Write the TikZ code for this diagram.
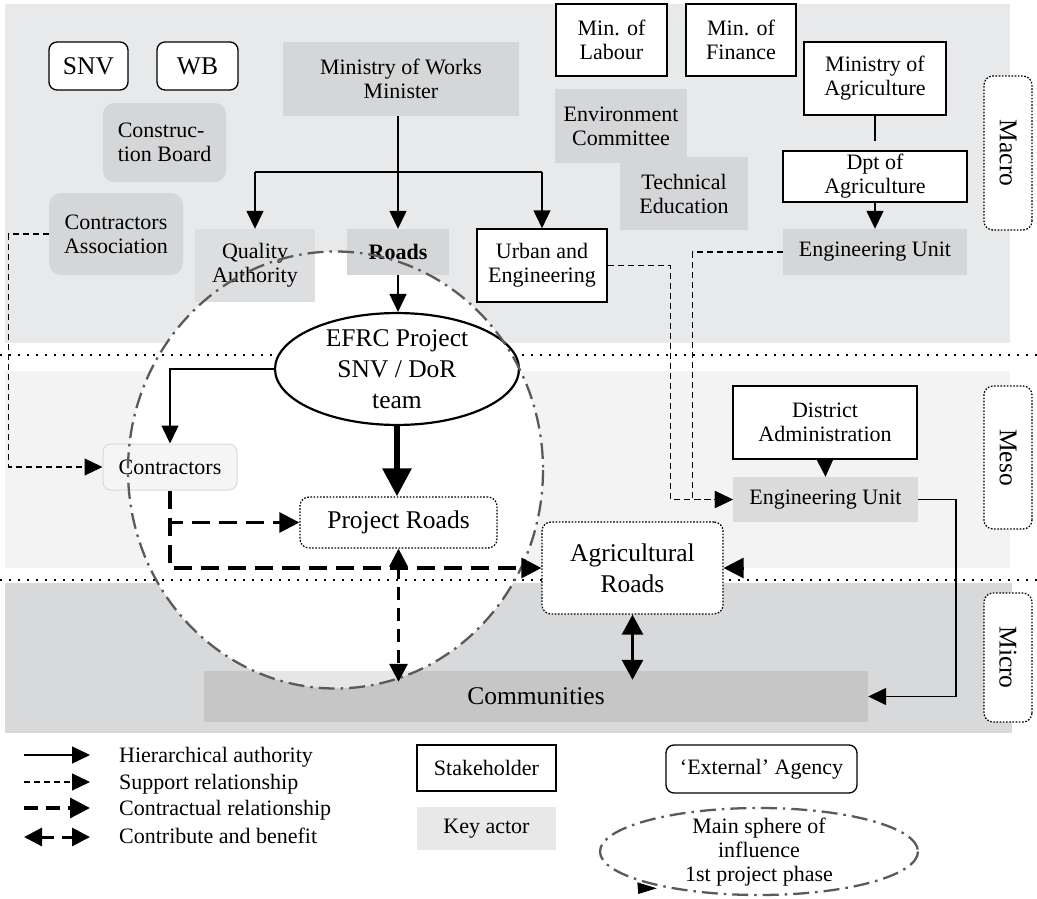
\documentclass[tikz,border=0pt]{standalone}
\usepackage{fontspec}
\setmainfont{Liberation Serif}
\usetikzlibrary{arrows.meta,shapes.geometric}

\definecolor{macrobg}{RGB}{232,233,235}
\definecolor{mesobg}{RGB}{243,243,243}
\definecolor{microbg}{RGB}{216,217,219}
\definecolor{keygray}{RGB}{213,214,216}
\definecolor{qagray}{RGB}{221,222,224}
\definecolor{unitgray}{RGB}{219,219,220}
\definecolor{commgray}{RGB}{198,198,198}
\definecolor{commlight}{RGB}{230,230,230}
\definecolor{contrfill}{RGB}{245,245,245}
\definecolor{contrline}{RGB}{218,218,218}
\definecolor{legkey}{RGB}{232,232,232}
\definecolor{spheregray}{RGB}{90,90,90}

\newcommand\txtnorm{\fontsize{22}{24}\selectfont}
\newcommand\txtbig{\fontsize{25.5}{31}\selectfont}

\begin{document}
\begin{tikzpicture}[x=1pt,y=-1pt,
  every node/.style={font=\txtnorm, align=center, inner sep=0pt},
  sz/.style 2 args={minimum width=#1pt, minimum height=#2pt},
  stake/.style={draw, line width=1.5pt, fill=white},
  keyact/.style={fill=keygray},
  ext/.style={draw, line width=1.3pt, rounded corners=8pt, fill=white},
  dotbox/.style={draw, line width=1.3pt, dash pattern=on 1.6pt off 1.6pt, rounded corners=9pt, fill=white},
  hier/.style={line width=1.5pt, -{Triangle[length=18pt,width=17pt]}},
  supp/.style={line width=1.2pt, dash pattern=on 6pt off 4pt, -{Triangle[length=18pt,width=17pt]}},
  contr/.style={line width=3.2pt, dash pattern=on 18pt off 9pt, -{Triangle[length=20pt,width=20pt]}},
  contrib/.style={line width=3pt, dash pattern=on 13pt off 8pt, {Triangle[length=18pt,width=18pt]}-{Triangle[length=18pt,width=18pt]}},
  sphere/.style={draw=spheregray, line width=2.3pt, dash pattern=on 16pt off 6pt on 2.5pt off 6pt},
  sep/.style={line width=2.4pt, dash pattern=on 2.4pt off 6.6pt}
]
\useasboundingbox (0,0) rectangle (1037,899);

% level bands
\fill[macrobg] (5,4) rectangle (1010,343);
\fill[mesobg]  (5,371) rectangle (1010,568);
\fill[microbg] (5,583) rectangle (1012,733);

% sphere of influence (fill)
\fill[white] (335.5,470) ellipse [x radius=207.5, y radius=218.5];

% communities bar
\node[fill=commgray, sz={664}{51}, font=\txtbig] (comm) at (536,696.5) {Communities};
\begin{scope}
  \clip (335.5,470) ellipse [x radius=207.5, y radius=218.5];
  \fill[commlight] (comm.north west) rectangle (comm.south east);
\end{scope}

% level separators
\draw[sep] (0,355) -- (1037,355);
\draw[sep] (0,580) -- (1037,580);

% macro level
\node[ext, sz={79}{48}, font=\txtbig] (snv) at (88.5,66) {SNV};
\node[ext, sz={81}{48}, font=\txtbig] (wb) at (197.5,66) {WB};
\node[keyact, rounded corners=11pt, sz={123}{79}, align=left] (cb) at (164.5,142.5) {Construc-\\tion Board};
\node[keyact, rounded corners=12pt, sz={134}{82}] (ca) at (116,234) {Contractors\\Association};
\node[keyact, sz={236}{74}] (mow) at (401,79) {Ministry of Works\\Minister};
\node[fill=qagray, sz={120}{73}] (qa) at (255,265.5) {Quality\\Authority};
\node[keyact, sz={102}{46}] (roads) at (398,252) {\textbf{Roads}};
\node[stake, sz={130}{73}] (urban) at (542,265.5) {Urban and\\Engineering};
\node[stake, sz={111}{72}] (lab) at (611.5,40) {Min. of\\Labour};
\node[stake, sz={110}{72}] (fin) at (741,40) {Min. of\\Finance};
\node[keyact, sz={132}{74}] (env) at (621,126) {Environment\\Committee};
\node[keyact, sz={128}{73}] (tech) at (684,193.5) {Technical\\Education};
\node[stake, sz={142}{73}] (minag) at (875,78.5) {Ministry of\\Agriculture};
\node[stake, sz={184}{51}] (dpt) at (875,176.5) {Dpt of\\Agriculture};
\node[keyact, sz={184}{46}] (engM) at (875,252) {Engineering Unit};
\node[dotbox, rotate=-90, sz={154}{48}, font=\txtbig] (macro) at (1008,153) {Macro};

% meso level
\node[draw, ellipse, line width=2.2pt, fill=white, sz={244}{104}, font=\txtbig] (efrc) at (397,369) {EFRC Project\\SNV / DoR\\team};
\node[fill=contrfill, draw=contrline, line width=1pt, rounded corners=8pt, sz={134}{46}] (contr) at (170,467) {Contractors};
\node[dotbox, sz={197}{51}, font=\txtbig] (pr) at (398.5,522.5) {Project Roads};
\node[dotbox, sz={181}{92}, font=\txtbig] (agri) at (632.5,568) {Agricultural\\Roads};
\node[stake, sz={184}{73}] (dist) at (825,422.5) {District\\Administration};
\node[fill=unitgray, sz={185}{45}] (engm) at (825.5,499.5) {Engineering Unit};
\node[dotbox, rotate=-90, sz={143}{48}, font=\txtbig] (meso) at (1008,457.5) {Meso};
\node[dotbox, rotate=-90, sz={129}{48}, font=\txtbig] (micro) at (1008,657.5) {Micro};

% sphere of influence (outline)
\draw[sphere] (335.5,470) ellipse [x radius=207.5, y radius=218.5];

% hierarchical authority
\coordinate (bar) at (398,172);
\draw[hier] (roads.north |- mow.south) -- (roads.north);
\draw[line width=1.5pt] (qa.north |- bar) -- (urban.north |- bar);
\draw[hier] (qa.north |- bar) -- (qa.north);
\draw[hier] (urban.north |- bar) -- (urban.north);
\draw[hier] (roads.south) -- (roads.south |- efrc.north);
\draw[hier] (efrc.west) -| (contr.north);
\draw[line width=1.5pt] (minag.south) -- ++(0,25);
\draw[hier] (dpt.south) -- (engM.north);
\draw[hier] (dist.south) -- (engm.north);
\draw[hier] (engm.east) -- ++(38,0) |- (comm.east);
\draw[line width=6pt, -{Triangle[length=28pt,width=28pt]}] (efrc.south) -- (efrc.south |- pr.north);

% support relationships
\draw[supp] (ca.west) -- ++(-40,0) |- (contr.west);
\draw[supp] (urban.east) -- ++(63,0) |- (engm.west);
\draw[supp] (engM.west) -- ++(-90,0) |- (engm.west);

% contractual relationships
\draw[contr] (contr.south) |- (pr.west);
\draw[contr] (contr.south) |- (agri.west);

% contribute and benefit
\draw[contrib] (pr.south) -- ([yshift=-11pt]pr.south |- comm.north);
\draw[line width=3pt, {Triangle[length=20pt,width=21pt]}-{Triangle[length=20pt,width=21pt]}] (agri.south) -- ([yshift=-9pt]agri.south |- comm.north);
\coordinate (agrin) at (743,568);
\draw[line width=3pt, -{Triangle[length=20pt,width=20pt]}] (agrin) -- (agri.east);

% legend: connectors
\coordinate (lg1a) at (24,755);  \coordinate (lg1b) at (90,755);
\coordinate (lg2a) at (24,782);  \coordinate (lg2b) at (90,782);
\coordinate (lg3a) at (24,808);  \coordinate (lg3b) at (90,808);
\coordinate (lg4a) at (24,837);  \coordinate (lg4b) at (90,837);
\draw[hier] (lg1a) -- (lg1b);
\draw[supp] (lg2a) -- (lg2b);
\draw[contr, dash pattern=on 14pt off 8pt] (lg3a) -- (lg3b);
\draw[contrib] (lg4a) -- (lg4b);
\node[anchor=base west] (lt1) at (119,762) {Hierarchical authority};
\node[anchor=base west] (lt2) at (119,789) {Support relationship};
\node[anchor=base west] (lt3) at (119,815) {Contractual relationship};
\node[anchor=base west] (lt4) at (119,843) {Contribute and benefit};

% legend: boxes
\node[stake, sz={139}{46}] (lgstake) at (486.5,768) {Stakeholder};
\node[fill=legkey, sz={139}{43}] (lgkey) at (486.5,828.5) {Key actor};
\node[ext, sz={191}{48}] (lgext) at (761.5,769) {`External' Agency};
\draw[sphere] (759,851.5) ellipse [x radius=159, y radius=43.5];
\node (lgsphere) at (759,852) {Main sphere of\\influence\\1st project phase};
\fill (637.3,882.3) -- (656.7,888.3) -- (638.3,894) -- cycle;
\end{tikzpicture}
\end{document}
